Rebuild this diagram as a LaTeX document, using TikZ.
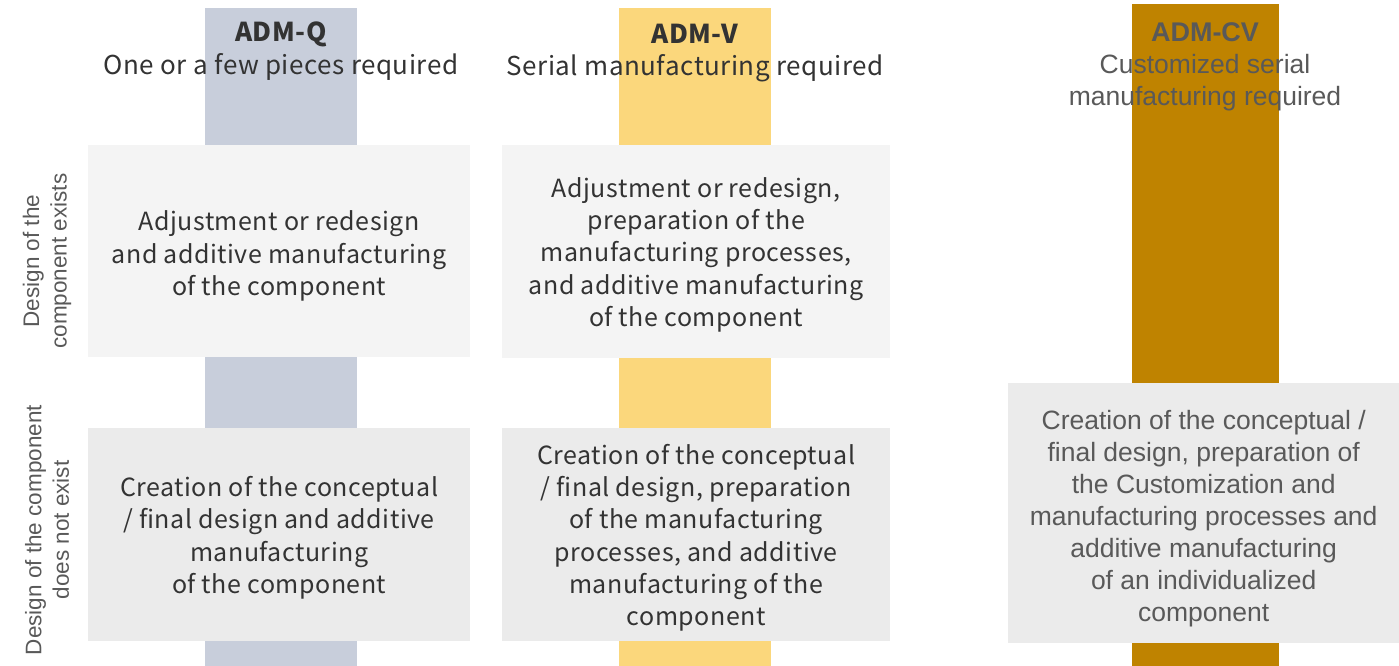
\documentclass[tikz,border=0pt]{standalone}
\usepackage{fontspec}
\setmainfont{Liberation Sans}
\newfontfamily\jpfont[LetterSpace=2]{Noto Sans CJK JP}
\definecolor{barq}{HTML}{C8CEDB}
\definecolor{barv}{HTML}{FBD77C}
\definecolor{barcv}{HTML}{BF8300}
\definecolor{boxtop}{HTML}{F4F4F4}
\definecolor{boxbot}{HTML}{EBEBEB}
\definecolor{txtdark}{HTML}{333333}
\definecolor{txtgrey}{HTML}{595959}
\tikzset{
  bar/.style={draw=none, inner sep=0pt, minimum width=152pt, anchor=north},
  cell/.style={draw=none, inner sep=0pt, anchor=north west},
  jptxt/.style={align=center, text=txtdark, font=\jpfont\fontsize{25}{32.3}\selectfont},
  jphead/.style={align=center, text=txtdark, font=\jpfont\fontsize{26}{32}\selectfont},
  artxt/.style={align=center, text=txtgrey, font=\fontsize{26.5}{32}\selectfont},
  headb/.style={text=txtdark, font=\jpfont\bfseries\fontsize{26}{30}\selectfont},
  rowlab/.style={align=center, text=txtgrey, rotate=90, font=\fontsize{22.5}{27.5}\selectfont},
}
\begin{document}
\begin{tikzpicture}[x=1pt,y=-1pt]
\useasboundingbox (0,0) rectangle (1399,666);
% vertical bars
\node[bar, fill=barq, minimum height=658pt] (barQ) at (281,8) {};
\node[bar, fill=barv, minimum height=658pt] (barV) at (695,8) {};
\node[bar, fill=barcv, minimum width=147pt, minimum height=662pt] (barCV) at (1205.5,4) {};
% cells
\node[cell, fill=boxtop, minimum width=382pt, minimum height=212pt] (q1) at (88,145) {};
\node[cell, fill=boxbot, minimum width=382pt, minimum height=213pt] (q2) at (88,428) {};
\node[cell, fill=boxtop, minimum width=388pt, minimum height=213pt] (v1) at (502,145) {};
\node[cell, fill=boxbot, minimum width=388pt, minimum height=213pt] (v2) at (502,428) {};
\node[cell, fill=boxbot, minimum width=391pt, minimum height=260pt] (cv) at (1008,383) {};
% headings
\node[headb] (hq) at (281,34) {ADM-Q};
\node[jphead] (sq) at (281,67) {One or a few pieces required};
\node[headb] (hv) at (695,34) {ADM-V};
\node[jphead] (sv) at (695,68) {Serial manufacturing required};
\node[text=txtgrey, font=\bfseries\fontsize{27}{30}\selectfont] (hcv) at (1205,32) {ADM-CV};
\node[artxt] (scv) at (1205,83) {Customized serial\\manufacturing required};
% row labels
\node[rowlab] (r1) at (47,261) {Design of the\\component exists};
\node[rowlab] (r2) at (47,530) {Design of the component\\does not exist};
% cell texts
\node[jptxt] at ([yshift=-5pt]q1.center) {Adjustment or redesign\\and additive manufacturing\\of the component};
\node[jptxt] at ([yshift=-3pt]v1.center) {Adjustment or redesign,\\preparation of the\\manufacturing processes,\\and additive manufacturing\\of the component};
\node[jptxt] at ([yshift=-3pt]q2.center) {Creation of the conceptual\\/ final design and additive\\manufacturing\\of the component};
\node[jptxt] at ([yshift=-3pt]v2.center) {Creation of the conceptual\\/ final design, preparation\\of the manufacturing\\processes, and additive\\manufacturing of the\\component};
\node[artxt] at ([yshift=-5pt]cv.center) {Creation of the conceptual /\\final design, preparation of\\the Customization and\\manufacturing processes and\\additive manufacturing\\of an individualized\\component};
\end{tikzpicture}
\end{document}
